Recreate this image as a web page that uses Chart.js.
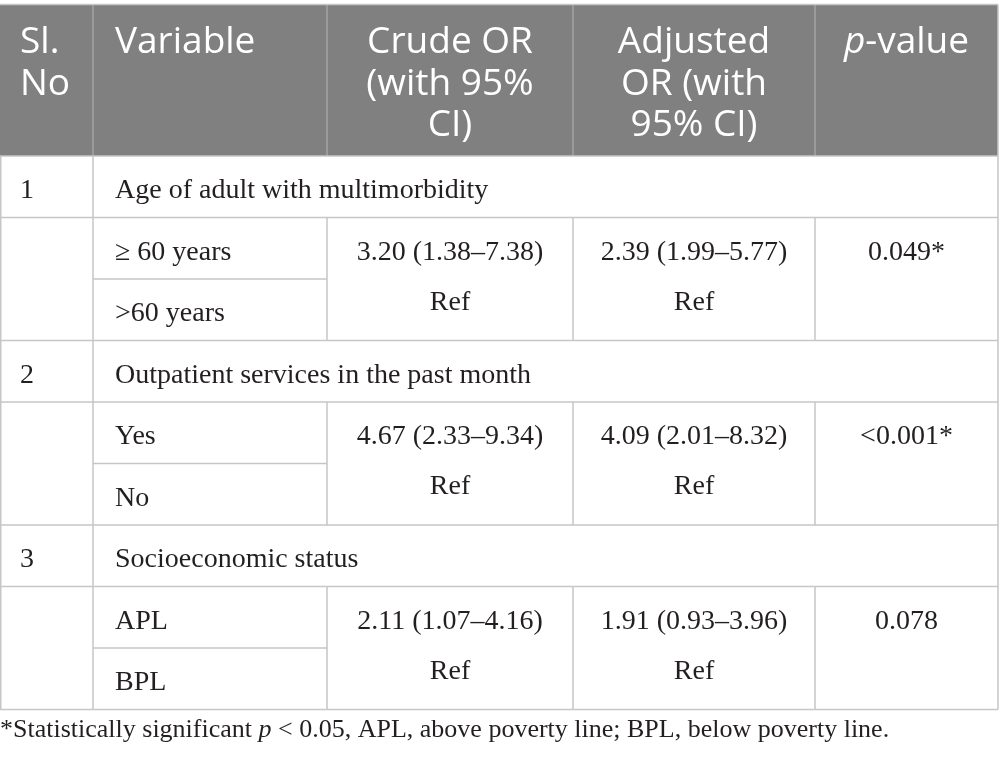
<!DOCTYPE html>
<html><head><meta charset="utf-8">
<script src="https://cdn.jsdelivr.net/npm/chart.js@4.4.0/dist/chart.umd.min.js"></script>
<style>html,body{margin:0;padding:0;background:#fff;overflow:hidden}#wrap{width:999px;height:764px;position:relative}</style>
</head><body><div id="wrap"><canvas id="c"></canvas></div>
<script>
// ---- table content (data) ----
const headerCrude = ["Crude OR", "(with 95%", "CI)"];
const headerAdjusted = ["Adjusted", "OR (with", "95% CI)"];
const headerSl = ["Sl.", "No"];
const headerVariable = ["Variable"];
const headerPItalic = "p";
const headerPRest = "-value";
const groupNumbers = ["1", "2", "3"];
const groupLabels = ["Age of adult with multimorbidity", "Outpatient services in the past month", "Socioeconomic status"];
const levelFirst = ["\u2265 60 years", "Yes", "APL"];
const levelSecond = [">60 years", "No", "BPL"];
const crudeOR = ["3.20 (1.38\u20137.38)", "4.67 (2.33\u20139.34)", "2.11 (1.07\u20134.16)"];
const adjustedOR = ["2.39 (1.99\u20135.77)", "4.09 (2.01\u20138.32)", "1.91 (0.93\u20133.96)"];
const refLabel = "Ref";
const pValues = ["0.049*", "<0.001*", "0.078"];
const footStart = "*Statistically significant ";
const footItalic = "p";
const footEnd = " < 0.05, APL, above poverty line; BPL, below poverty line.";

// ---- layout / style (not data) ----
const L = {
  cols: [0, 93, 327, 573, 815, 998],
  headTop: 4.5, headBot: 156, rowH: 61.5,
  headBase: 53, headPitch: 41.5,
  headFont: '"Open Sans", sans-serif', headSize: 37,
  bodyFont: '"Liberation Serif", "Times New Roman", serif', bodySize: 28,
  footSize: 26, footBase: 737,
  headBg: '#808080', headLine: '#a3a3a3', line: '#c6c6c6', text: '#231f20'
};

const tablePlugin = {
  id: 'tablePlugin',
  afterDraw(chart) {
    const ctx = chart.ctx, xs = chart.scales.x, ys = chart.scales.y;
    const X = v => xs.getPixelForValue(v), Y = v => ys.getPixelForValue(v);
    const c = L.cols;
    const nRows = groupLabels.length * 3;
    const rowTop = r => L.headBot + r * L.rowH;
    const tableBot = rowTop(nRows);
    ctx.save();
    // header
    ctx.fillStyle = L.headBg;
    ctx.fillRect(X(c[0]), Y(L.headTop), X(c[5]) - X(c[0]), Y(L.headBot) - Y(L.headTop));
    const hline = (x1, x2, y, col) => { ctx.strokeStyle = col; ctx.beginPath(); ctx.moveTo(X(x1), Y(y)); ctx.lineTo(X(x2), Y(y)); ctx.stroke(); };
    const vline = (x, y1, y2, col) => { ctx.strokeStyle = col; ctx.beginPath(); ctx.moveTo(X(x), Y(y1)); ctx.lineTo(X(x), Y(y2)); ctx.stroke(); };
    ctx.lineWidth = 1.5;
    for (let i = 1; i < 5; i++) vline(c[i], L.headTop, L.headBot, L.headLine);
    hline(c[0], c[5], L.headTop, L.line);
    // header text
    ctx.fillStyle = '#ffffff';
    ctx.textBaseline = 'alphabetic';
    ctx.font = `${L.headSize}px ${L.headFont}`;
    const hb = i => Y(L.headBase + i * L.headPitch);
    ctx.textAlign = 'left';
    headerSl.forEach((t, i) => ctx.fillText(t, X(c[0] + 20), hb(i)));
    headerVariable.forEach((t, i) => ctx.fillText(t, X(c[1] + 22), hb(i)));
    ctx.textAlign = 'center';
    headerCrude.forEach((t, i) => ctx.fillText(t, X((c[2] + c[3]) / 2), hb(i)));
    headerAdjusted.forEach((t, i) => ctx.fillText(t, X((c[3] + c[4]) / 2), hb(i)));
    // p-value with italic p
    ctx.textAlign = 'left';
    ctx.font = `italic ${L.headSize}px ${L.headFont}`;
    const wp = ctx.measureText(headerPItalic).width;
    ctx.font = `${L.headSize}px ${L.headFont}`;
    const wr = ctx.measureText(headerPRest).width;
    let px = X((c[4] + c[5]) / 2) - (wp + wr) / 2;
    ctx.font = `italic ${L.headSize}px ${L.headFont}`;
    ctx.fillText(headerPItalic, px, hb(0));
    ctx.font = `${L.headSize}px ${L.headFont}`;
    ctx.fillText(headerPRest, px + wp, hb(0));

    // body grid
    for (let g = 0; g < groupLabels.length; g++) {
      const r0 = g * 3;
      hline(c[0], c[5], rowTop(r0), L.line);
      hline(c[0], c[5], rowTop(r0 + 1), L.line);
      hline(c[1], c[2], rowTop(r0 + 2), L.line);
      for (let i = 2; i < 5; i++) vline(c[i], rowTop(r0 + 1), rowTop(r0 + 3), L.line);
    }
    hline(c[0], c[5], tableBot, L.line);
    vline(c[0] + 0.75, L.headBot, tableBot, L.line);
    vline(c[1], L.headBot, tableBot, L.line);
    vline(c[5], L.headTop, tableBot, L.line);

    // body text
    ctx.fillStyle = L.text;
    ctx.font = `${L.bodySize}px ${L.bodyFont}`;
    const base = r => Y(rowTop(r) + L.rowH / 2 + 11.5);
    for (let g = 0; g < groupLabels.length; g++) {
      const r0 = g * 3;
      ctx.textAlign = 'left';
      ctx.fillText(groupNumbers[g], X(c[0] + 20), base(r0));
      ctx.fillText(groupLabels[g], X(c[1] + 22), base(r0));
      ctx.fillText(levelFirst[g], X(c[1] + 22), base(r0 + 1));
      ctx.fillText(levelSecond[g], X(c[1] + 22), base(r0 + 2));
      ctx.textAlign = 'center';
      const b1 = base(r0 + 1), b2 = Y(rowTop(r0 + 1) + L.rowH / 2 + 11.5 + 50);
      ctx.fillText(crudeOR[g], X((c[2] + c[3]) / 2), b1);
      ctx.fillText(refLabel, X((c[2] + c[3]) / 2), b2);
      ctx.fillText(adjustedOR[g], X((c[3] + c[4]) / 2), b1);
      ctx.fillText(refLabel, X((c[3] + c[4]) / 2), b2);
      ctx.fillText(pValues[g], X((c[4] + c[5]) / 2), b1);
    }
    // footnote
    ctx.textAlign = 'left';
    let fx = X(0);
    const fy = Y(L.footBase);
    ctx.font = `${L.footSize}px ${L.bodyFont}`;
    ctx.fillText(footStart, fx, fy); fx += ctx.measureText(footStart).width;
    ctx.font = `italic ${L.footSize}px ${L.bodyFont}`;
    ctx.fillText(footItalic, fx, fy); fx += ctx.measureText(footItalic).width;
    ctx.font = `${L.footSize}px ${L.bodyFont}`;
    ctx.fillText(footEnd, fx, fy);
    ctx.restore();
  }
};

function build() {
  new Chart(document.getElementById('c'), {
    type: 'scatter',
    data: { datasets: [{ data: [], pointRadius: 0 }] },
    options: {
      responsive: true, maintainAspectRatio: false, animation: false,
      layout: { padding: 0 },
      plugins: { legend: { display: false }, tooltip: { enabled: false } },
      scales: {
        x: { type: 'linear', min: 0, max: 999, display: false },
        y: { type: 'linear', min: 0, max: 764, reverse: true, display: false }
      }
    },
    plugins: [tablePlugin]
  });
}
const fl = [`${L.headSize}px "Open Sans"`, `italic ${L.headSize}px "Open Sans"`, `${L.bodySize}px "Liberation Serif"`, `italic ${L.bodySize}px "Liberation Serif"`];
Promise.all(fl.map(f => document.fonts.load(f).catch(() => null))).then(build, build);
</script></body></html>
